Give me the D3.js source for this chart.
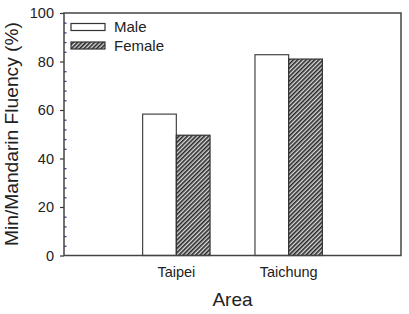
<!DOCTYPE html>
<html>
<head>
<meta charset="utf-8">
<script src="https://cdn.jsdelivr.net/npm/d3@7"></script>
<style>
  body { margin: 0; background: #fff; }
  text { font-family: "Liberation Sans", Arial, sans-serif; }
</style>
</head>
<body>
<svg id="chart" width="409" height="314"></svg>
<script>
// data
const areas = ['Taipei', 'Taichung']
const male = [58.3, 82.8]
const female = [49.6, 81.0]
const series = ['Male', 'Female']
const yTicks = [0, 20, 40, 60, 80, 100]

const svg = d3.select('#chart')
const mLeft = 64, mRight = 401, mTop = 13, mBottom = 255.5

const x = d3.scaleLinear().domain([0, 3]).range([mLeft, mRight])
const y = d3.scaleLinear().domain([0, 100]).range([mBottom, mTop])
const barW = 0.3

// hatch pattern for female
const defs = svg.append('defs')
const pat = defs.append('pattern')
  .attr('id', 'hatch')
  .attr('patternUnits', 'userSpaceOnUse')
  .attr('width', 3).attr('height', 3)
  .attr('patternTransform', 'rotate(45)')
pat.append('rect').attr('width', 3).attr('height', 3).attr('fill', '#dcdcdc')
pat.append('rect').attr('width', 1.6).attr('height', 3).attr('fill', '#262626')

// bars
const g = svg.append('g')
areas.forEach((a, i) => {
  g.append('rect')
    .attr('x', x(i + 1 - barW))
    .attr('y', y(male[i]))
    .attr('width', x(barW) - x(0))
    .attr('height', y(0) - y(male[i]))
    .attr('fill', '#fff')
    .attr('stroke', '#444')
    .attr('stroke-width', 1.2)
  g.append('rect')
    .attr('x', x(i + 1))
    .attr('y', y(female[i]))
    .attr('width', x(barW) - x(0))
    .attr('height', y(0) - y(female[i]))
    .attr('fill', 'url(#hatch)')
    .attr('stroke', '#333')
    .attr('stroke-width', 1.2)
})

// minor ticks (inside, blue)
const minor = d3.range(0, 101, 4).filter(v => v % 20 !== 0)
svg.append('g')
  .attr('transform', `translate(${mLeft},0)`)
  .call(d3.axisLeft(y).tickValues(minor).tickSize(-2.5).tickFormat(''))
  .call(s => s.select('.domain').remove())
  .call(s => s.selectAll('line').attr('stroke', '#3a3aa0').attr('stroke-width', 1.3))

// major axis
svg.append('g')
  .attr('transform', `translate(${mLeft},0)`)
  .call(d3.axisLeft(y).tickValues(yTicks).tickSize(4).tickPadding(6).tickSizeOuter(0))
  .call(s => s.select('.domain').remove())
  .call(s => s.selectAll('line').attr('stroke', '#333').attr('stroke-width', 1.2))
  .call(s => s.selectAll('text').attr('font-size', 14.5).attr('fill', '#222')
    .style('font-family', '"Liberation Sans", Arial, sans-serif'))

// frame
svg.append('rect')
  .attr('x', mLeft).attr('y', mTop)
  .attr('width', mRight - mLeft).attr('height', mBottom - mTop)
  .attr('fill', 'none').attr('stroke', '#444').attr('stroke-width', 1.5)

// category labels
svg.selectAll('.cat').data(areas).join('text')
  .attr('class', 'cat')
  .attr('x', (d, i) => x(i + 1))
  .attr('y', 277)
  .attr('text-anchor', 'middle')
  .attr('font-size', 14.5)
  .attr('fill', '#222')
  .text(d => d)

// axis titles
svg.append('text')
  .attr('x', x(1.5)).attr('y', 306)
  .attr('text-anchor', 'middle')
  .attr('font-size', 19)
  .attr('fill', '#222')
  .text('Area')
svg.append('text')
  .attr('transform', `translate(17.5,134) rotate(-90)`)
  .attr('text-anchor', 'middle')
  .attr('font-size', 19.2)
  .attr('fill', '#222')
  .text('Min/Mandarin Fluency (%)')

// legend
const leg = svg.append('g')
series.forEach((s, i) => {
  leg.append('rect')
    .attr('x', 71).attr('y', 23.5 + i * 18.5)
    .attr('width', 34).attr('height', 7)
    .attr('fill', i === 0 ? '#fff' : 'url(#hatch)')
    .attr('stroke', '#333').attr('stroke-width', 1.2)
  leg.append('text')
    .attr('x', 114).attr('y', 32.3 + i * 18.5)
    .attr('font-size', 15)
    .attr('fill', '#222')
    .text(s)
})
</script>
</body>
</html>
